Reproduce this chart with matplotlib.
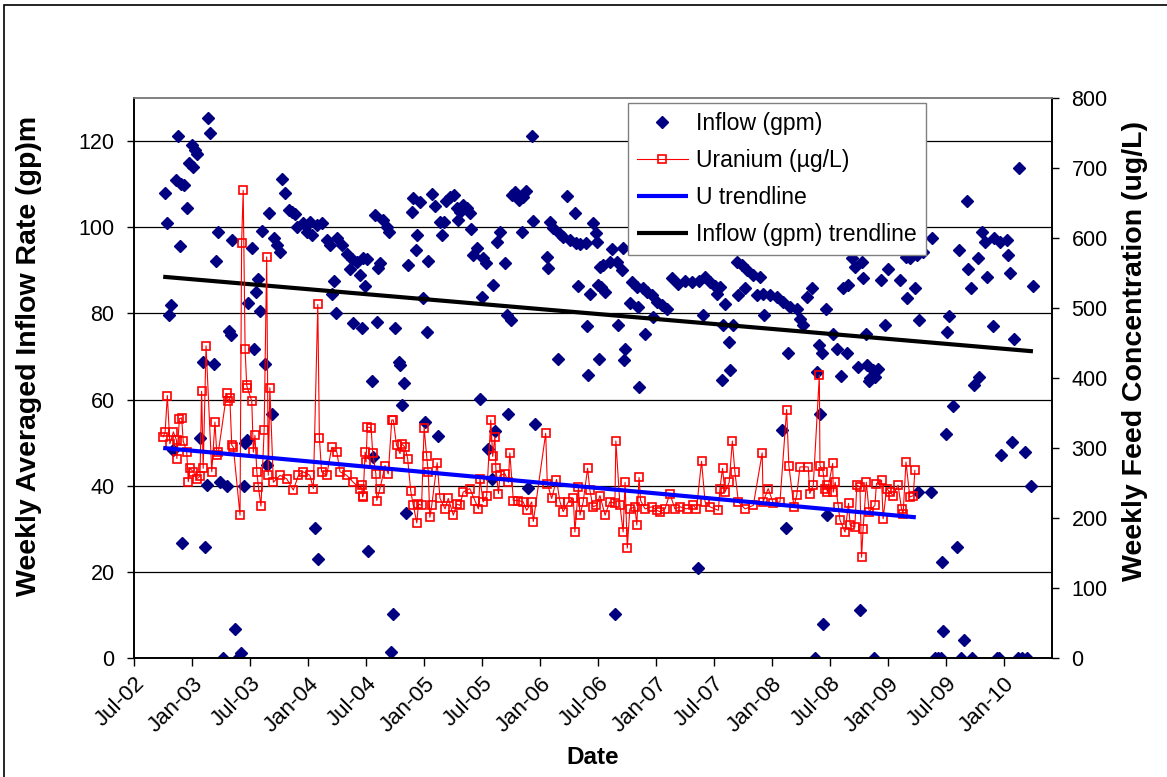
import numpy as np
import matplotlib
matplotlib.use("Agg")
import matplotlib.pyplot as plt
import matplotlib.dates as mdates
from matplotlib.patches import Rectangle

plt.rcParams['font.family'] = ['Liberation Sans', 'DejaVu Sans']

START = np.datetime64('2002-07-01')

# Weekly averaged inflow (gpm), day offsets from 1-Jul-2002
inflow_day = [
    98, 104, 110, 117, 123, 132, 139, 145, 148, 151,
    158, 167, 173, 183, 186, 192, 198, 208, 217, 224,
    230, 233, 239, 252, 258, 265, 271, 280, 293, 299,
    306, 309, 318, 328, 337, 347, 350, 356, 359, 372,
    378, 384, 391, 397, 403, 413, 419, 425, 435, 441,
    450, 460, 466, 476, 488, 498, 507, 513, 532, 545,
    554, 561, 570, 576, 580, 592, 608, 617, 624, 630,
    636, 639, 655, 671, 680, 687, 690, 702, 712, 718,
    721, 728, 734, 737, 750, 753, 759, 765, 769, 775,
    784, 797, 803, 810, 816, 822, 835, 838, 844, 851,
    857, 863, 876, 879, 888, 891, 901, 910, 917, 923,
    926, 939, 948, 958, 964, 970, 977, 983, 995, 1008,
    1017, 1021, 1027, 1036, 1049, 1058, 1062, 1068, 1080, 1090,
    1096, 1099, 1109, 1115, 1128, 1131, 1137, 1143, 1153, 1169,
    1175, 1178, 1188, 1191, 1200, 1213, 1222, 1225, 1235, 1241,
    1254, 1257, 1263, 1301, 1304, 1310, 1320, 1336, 1342, 1351,
    1364, 1373, 1389, 1392, 1399, 1405, 1424, 1427, 1430, 1436,
    1446, 1455, 1458, 1462, 1465, 1468, 1471, 1477, 1484, 1499,
    1506, 1515, 1521, 1525, 1537, 1540, 1544, 1547, 1562, 1569,
    1584, 1588, 1591, 1603, 1610, 1616, 1632, 1635, 1647, 1663,
    1679, 1695, 1714, 1736, 1758, 1777, 1780, 1792, 1799, 1814,
    1830, 1836, 1846, 1852, 1855, 1862, 1874, 1877, 1887, 1899,
    1903, 1915, 1925, 1931, 1950, 1962, 1972, 1981, 1985, 2003,
    2025, 2041, 2044, 2054, 2060, 2066, 2088, 2098, 2107, 2120,
    2136, 2145, 2151, 2157, 2161, 2167, 2170, 2180, 2183, 2202,
    2214, 2227, 2233, 2246, 2249, 2262, 2271, 2281, 2287, 2293,
    2296, 2306, 2309, 2315, 2318, 2328, 2331, 2334, 2344, 2353,
    2366, 2375, 2413, 2432, 2435, 2444, 2460, 2466, 2470, 2473,
    2485, 2511, 2514, 2523, 2533, 2542, 2545, 2548, 2558, 2561,
    2567, 2580, 2592, 2599, 2605, 2615, 2624, 2627, 2637, 2640,
    2646, 2659, 2662, 2671, 2681, 2687, 2706, 2709, 2718, 2725,
    2728, 2731, 2750, 2753, 2759, 2766, 2772, 2785, 2788, 2797,
    2807, 2813, 2826, 2832,
]
inflow_gpm = [
    108, 101, 79.6, 82, 48.2, 111, 121.2, 95.6, 110, 26.7,
    109.8, 104.5, 115, 119, 114, 118, 117, 51, 68.7, 25.7,
    40.2, 125.3, 121.8, 68.3, 92.2, 98.8, 40.9, 0, 39.9, 75.9,
    75, 97, 6.8, 0, 1.1, 39.9, 49.8, 50.5, 82.3, 95.2,
    71.7, 85, 88, 80.6, 99.2, 68.3, 44.9, 103.2, 56.7, 97.5,
    95.8, 94.2, 111.1, 107.9, 104, 103.5, 103, 100.1, 100.9, 98.9,
    101.3, 98.2, 30.2, 100.6, 23, 101, 97, 95.8, 84.6, 87.5,
    80, 97.4, 95.8, 93.9, 90.4, 92.7, 77.8, 92, 88.9, 76.6,
    92.8, 86.4, 92.6, 24.8, 64.3, 46.7, 102.8, 77.9, 90.6, 91.6,
    101.6, 100.1, 98.9, 1.4, 10.3, 76.6, 68.7, 68.1, 58.8, 63.9,
    33.7, 91.2, 103.6, 106.8, 94.8, 98.2, 105.9, 83.5, 54.8, 75.7,
    92.1, 107.6, 105, 51.5, 101.1, 98.3, 101.3, 106, 107, 107.5,
    104.4, 101.6, 103.6, 105.1, 104.4, 103.2, 99.6, 93.5, 95.1, 60.2,
    83.8, 92.8, 91.6, 48.5, 41.6, 86.7, 52.6, 96.6, 98.8, 91.7,
    79.6, 56.7, 78.4, 107.5, 108.2, 106.3, 98.9, 107.1, 108.5, 39.5,
    121.2, 101.4, 54.4, 93.1, 90.6, 101.3, 99.9, 69.5, 98.4, 97.8,
    107.3, 97, 103.2, 96.4, 86.4, 96.1, 96.4, 77.1, 65.6, 84.6,
    101, 98.6, 96.6, 86.5, 69.5, 90.8, 86.2, 91.2, 85, 92,
    94.9, 10.3, 92, 77.3, 90, 95.1, 69.1, 71.8, 82.3, 87.3,
    86.2, 81.5, 62.9, 85.8, 75.3, 85, 84.2, 79.2, 82.7, 81.9,
    81.1, 88.1, 86.9, 87.5, 87.2, 20.9, 87.6, 79.6, 88.5, 87.3,
    86.4, 84.6, 86.2, 64.5, 77.3, 82.1, 73.4, 66.8, 77.3, 92,
    84.2, 91.2, 85.8, 90, 88.9, 84.2, 88.5, 84.6, 79.6, 84.2,
    83.9, 52.9, 82.7, 30.2, 70.7, 81.5, 81.1, 78.8, 77.3, 83.8,
    85.8, 0, 66.4, 72.6, 56.7, 70.7, 8, 81.1, 33.3, 75.1,
    71.7, 65.5, 85.9, 70.9, 86.7, 92.8, 90.8, 67.6, 11.1, 92,
    88.2, 75.1, 68.1, 64.2, 64.9, 66.8, 0, 65.3, 67.2, 87.7,
    77.4, 90.4, 87.7, 93.1, 83.6, 92.8, 85.9, 93.5, 38.5, 78.4,
    94.3, 38.5, 97.4, 0, 0, 0, 22.3, 6.2, 51.9, 75.7,
    79.4, 58.4, 25.8, 94.8, 0, 4.1, 106.1, 90.4, 85.9, 0,
    63.3, 92.9, 65.3, 98.9, 96.6, 88.5, 77.1, 97.4, 0, 0,
    96.6, 47.1, 97, 93.5, 89.4, 50.2, 74, 0, 113.7, 0,
    47.8, 0, 39.9, 86.3,
]

# Weekly feed uranium concentration (ug/L), day offsets from 1-Jul-2002
uranium_day = [
    92, 98, 105, 113, 124, 134, 135, 143, 150, 155,
    166, 171, 176, 187, 198, 208, 213, 218, 227, 245,
    255, 261, 266, 292, 297, 302, 308, 313, 334, 339,
    344, 350, 355, 357, 371, 376, 381, 387, 392, 400,
    410, 418, 423, 428, 439, 460, 481, 502, 518, 533,
    554, 565, 579, 584, 591, 607, 623, 639, 649, 670,
    691, 712, 717, 720, 722, 728, 731, 735, 747, 752,
    762, 765, 775, 791, 801, 812, 817, 827, 838, 843,
    854, 862, 872, 880, 891, 896, 906, 914, 922, 927,
    932, 938, 955, 964, 980, 990, 1006, 1017, 1027, 1037,
    1058, 1074, 1085, 1090, 1100, 1111, 1124, 1130, 1137, 1140,
    1148, 1153, 1169, 1179, 1184, 1195, 1211, 1226, 1237, 1253,
    1258, 1297, 1302, 1316, 1331, 1342, 1352, 1368, 1384, 1389,
    1400, 1405, 1415, 1429, 1436, 1446, 1457, 1468, 1484, 1499,
    1515, 1518, 1531, 1541, 1547, 1554, 1562, 1578, 1584, 1591,
    1596, 1610, 1631, 1647, 1657, 1673, 1688, 1704, 1720, 1741,
    1762, 1772, 1788, 1799, 1814, 1841, 1846, 1854, 1862, 1875,
    1885, 1893, 1904, 1925, 1951, 1979, 1982, 1998, 2014, 2035,
    2056, 2063, 2079, 2088, 2098, 2124, 2129, 2140, 2159, 2161,
    2171, 2177, 2182, 2184, 2201, 2203, 2209, 2219, 2224, 2240,
    2251, 2256, 2271, 2277, 2287, 2292, 2297, 2307, 2316, 2334,
    2339, 2355, 2360, 2371, 2381, 2392, 2407, 2418, 2423, 2432,
    2444, 2455, 2460,
]
uranium_ugl = [
    316, 323, 375, 306, 323, 311, 285, 342, 343, 310,
    295, 252, 271, 266, 256, 260, 381, 271, 446, 266,
    337, 290, 295, 378, 367, 371, 304, 301, 204, 593,
    668, 441, 390, 386, 367, 294, 318, 266, 244, 217,
    326, 573, 261, 386, 251, 261, 256, 240, 261, 266,
    261, 242, 505, 315, 266, 261, 301, 294, 266, 261,
    251, 242, 247, 230, 232, 294, 280, 330, 329, 293,
    263, 225, 242, 275, 263, 340, 340, 304, 292, 306,
    301, 285, 238, 218, 193, 220, 218, 329, 288, 266,
    201, 218, 279, 228, 213, 228, 204, 220, 218, 237,
    242, 225, 213, 256, 223, 232, 340, 288, 316, 271,
    235, 261, 263, 251, 293, 225, 225, 223, 211, 223,
    195, 321, 249, 228, 255, 223, 209, 223, 228, 180,
    244, 204, 223, 271, 240, 216, 218, 232, 204, 223,
    221, 310, 218, 180, 251, 157, 213, 216, 190, 258,
    225, 213, 216, 211, 209, 213, 235, 213, 216, 213,
    218, 213, 281, 223, 216, 211, 242, 271, 237, 251,
    310, 266, 223, 213, 218, 293, 223, 242, 221, 223,
    355, 275, 216, 233, 273, 273, 235, 247, 404, 275,
    266, 242, 247, 237, 278, 237, 251, 216, 197, 180,
    221, 190, 187, 247, 244, 144, 185, 251, 209, 218,
    249, 254, 199, 242, 237, 232, 247, 213, 206, 280,
    230, 232, 268,
]

# linear trendlines, end points
inflow_trend_day = [92, 2832]
inflow_trend_gpm = [88.5, 71.2]
u_trend_day = [92, 2463]
u_trend_ugl = [300, 201]


def to_dates(days):
    return START + np.array(days, dtype='timedelta64[D]')


def main():
    fig = plt.figure(figsize=(11.67, 7.77), dpi=100)
    ax = fig.add_axes([134 / 1167, 1 - 658 / 777, 918 / 1167, 560 / 777])
    ax2 = ax.twinx()

    h_inflow, = ax.plot(to_dates(inflow_day), inflow_gpm, ls='none', marker='D',
                        ms=5.8, color='#000080', mec='#000080', label='Inflow (gpm)')
    h_itrend, = ax.plot(to_dates(inflow_trend_day), inflow_trend_gpm, color='black',
                        lw=3, solid_capstyle='butt', label='Inflow (gpm) trendline')
    h_u, = ax2.plot(to_dates(uranium_day), uranium_ugl, color='red', lw=0.8,
                    marker='s', ms=6.3, mfc='none', mec='red', mew=1.2,
                    label='Uranium (\u00b5g/L)')
    h_utrend, = ax2.plot(to_dates(u_trend_day), u_trend_ugl, color='blue', lw=3,
                         solid_capstyle='butt', label='U trendline')

    # axes ranges and ticks
    ax.set_xlim(START, START + np.timedelta64(2892, 'D'))
    ax.xaxis.set_major_locator(mdates.MonthLocator(bymonth=[1, 7]))
    ax.xaxis.set_major_formatter(mdates.DateFormatter('%b-%y'))
    ax.set_ylim(0, 130)
    ax.set_yticks(np.arange(0, 121, 20))
    ax2.set_ylim(0, 800)
    ax2.set_yticks(np.arange(0, 801, 100))

    ax.yaxis.grid(True, color='black', lw=0.9)
    ax.set_axisbelow(True)

    ax.tick_params(axis='y', direction='out', length=5, width=1, labelsize=15.5, pad=9)
    ax.tick_params(axis='x', direction='out', length=6, width=1, labelsize=16, pad=5)
    ax2.tick_params(axis='y', direction='out', length=5, width=1, labelsize=15.5, pad=9)
    plt.setp(ax.get_xticklabels(), rotation=45, ha='right', va='top',
             rotation_mode='anchor')

    for a in (ax, ax2):
        for side in ('left', 'right', 'bottom'):
            a.spines[side].set_color('black')
            a.spines[side].set_linewidth(1.2)
        a.spines['top'].set_color('#808080')
        a.spines['top'].set_linewidth(1.2)

    ax.set_ylabel('Weekly Averaged Inflow Rate (gp)m', fontsize=20.5, fontweight='bold')
    ax.yaxis.set_label_coords(-0.1, 0.54)
    ax2.set_ylabel('Weekly Feed Concentration (ug/L)', fontsize=20.5, fontweight='bold')
    ax2.yaxis.set_label_coords(1.076, 0.548)
    ax.set_xlabel('Date', fontsize=17.5, fontweight='bold')
    ax.xaxis.set_label_coords(0.5, -0.158)

    leg = ax2.legend([h_inflow, h_u, h_utrend, h_itrend],
                     [h.get_label() for h in (h_inflow, h_u, h_utrend, h_itrend)],
                     loc='upper left', bbox_to_anchor=(0.538, 0.991),
                     borderaxespad=0, fontsize=16.6, frameon=True, fancybox=False,
                     edgecolor='#808080', framealpha=1, numpoints=1,
                     borderpad=0.4, labelspacing=0.6, handlelength=2.2,
                     handletextpad=0.35)
    leg.get_frame().set_linewidth(1.0)

    # outer chart border
    fig.patches.append(Rectangle((4 / 1167, -0.1), 1.2, 1.1 - 5 / 777,
                                 transform=fig.transFigure, fill=False,
                                 edgecolor='black', lw=1.2))

    fig.savefig('out.png', dpi=100)


if __name__ == '__main__':
    main()
